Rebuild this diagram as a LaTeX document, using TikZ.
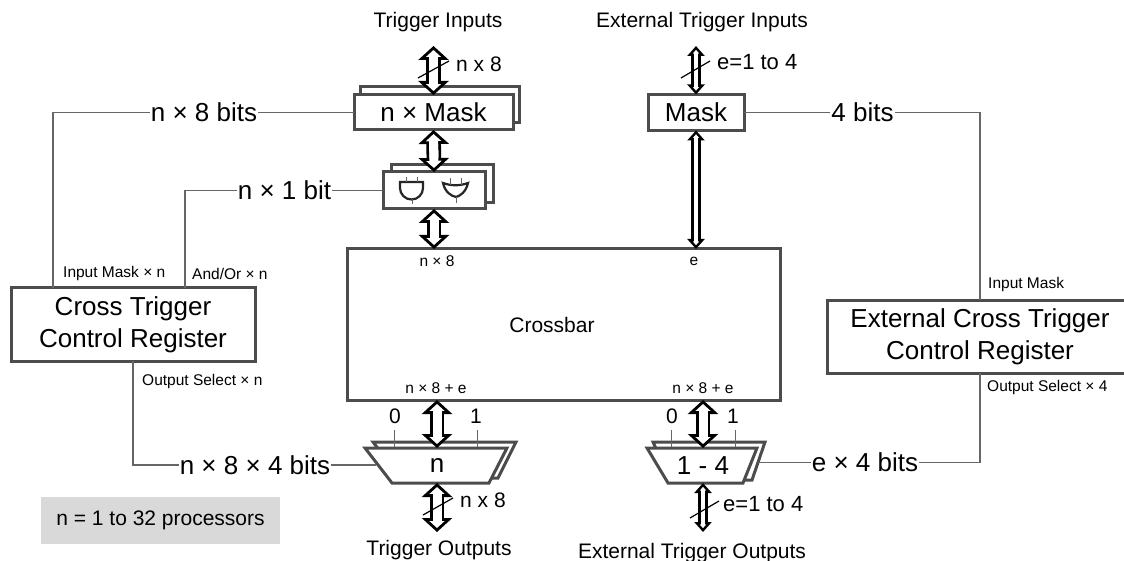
\documentclass[tikz,border=0pt]{standalone}
\usepackage{fontspec}
\setmainfont{Liberation Sans}
\usetikzlibrary{arrows.meta, positioning, calc}

\begin{document}
\begin{tikzpicture}[x=1pt, y=-1pt,
    box/.style={draw=black!70, line width=3pt, fill=white, inner sep=0pt, outer sep=0pt},
    wire/.style={draw=black!60, line width=1.4pt},
    tick/.style={draw=black!60, line width=1pt},
    gate/.style={draw=black!85, line width=2.2pt},
    bus/.style={draw=black, line width=2.8pt, double=white, double distance=9pt,
        {Triangle[width=30pt, length=14pt, fill=white]}-{Triangle[width=30pt, length=14pt, fill=white]},
        postaction={draw=white, line width=9pt, -, shorten >=8pt, shorten <=8pt}},
    thinbus/.style={draw=black, line width=2.4pt, double=white, double distance=4.5pt,
        {Triangle[width=17pt, length=10pt, fill=white]}-{Triangle[width=17pt, length=10pt, fill=white]},
        postaction={draw=white, line width=4.5pt, -, shorten >=6pt, shorten <=6pt}},
    slash/.style={draw=black, line width=1.2pt},
    big/.style={font=\fontsize{26}{32}\selectfont, align=center},
    mid/.style={font=\fontsize{21}{24}\selectfont, inner sep=1pt},
    bits/.style={font=\fontsize{26}{30}\selectfont, inner sep=1pt},
    small/.style={font=\fontsize{15.5}{18}\selectfont, inner sep=0pt},
    muxtext/.style={big, inner sep=0pt, outer sep=0pt, minimum width=80, minimum height=35},
    note/.style={fill=black!15, font=\fontsize{21}{24}\selectfont, inner sep=0pt}]

    \useasboundingbox (0,0) rectangle (1124,561);

    % Boxes in the middle of the picture
    \node (crossbar) [box, minimum width=433, minimum height=151] at (563.5,324.5) {};
    \node (crossbarText) [mid] at (552,325) {Crossbar};
    \node (maskBack) [box, minimum width=159, minimum height=36] at (439.5,105) {};
    \node (nMask) [box, big, minimum width=159, minimum height=35] at (433.5,112.5) {n × Mask};
    \node (gateBack) [box, minimum width=102, minimum height=38] at (442,184) {};
    \node (gates) [box, minimum width=102, minimum height=37] at (434,190.5) {};
    \node (eMask) [box, big, minimum width=96, minimum height=36] at (696,112.5) {Mask};

    % Register boxes
    \node (ctc) [box, big, minimum width=244, minimum height=73] at (133,324.5) {Cross Trigger\\Control Register};
    \node (ectc) [box, big, minimum width=306, minimum height=73] at (980,336.5) {External Cross Trigger\\Control Register};

    % Output muxes
    \draw [box] (373,442) -- (516,442) -- (498,478) -- (400,478) -- cycle;
    \draw [box] (365,448) -- (507,448) -- (489,483) -- (392,483) -- cycle;
    \draw [box] (653,442) -- (765,442) -- (752,480) -- (670,480) -- cycle;
    \draw [box] (647,448) -- (757,448) -- (743,483) -- (668,483) -- cycle;
    \node (mux) [muxtext] at (437,465.5) {n};
    \node (eMux) [muxtext] at (703,465.5) {1 - 4};

    % Free ends of the buses
    \coordinate (trigIn) at (433.5,46);
    \coordinate (eTrigIn) at (696,46);
    \coordinate (trigOut) at (437,532);
    \coordinate (eTrigOut) at (703,532);

    % Buses
    \draw [bus] (trigIn) to (nMask.north);
    \draw [bus] (nMask.south) to (gates.north);
    \draw [bus] (gates.south) to (crossbar.north -| gates.south);
    \draw [thinbus] (eTrigIn) to (eMask.north);
    \draw [thinbus] (eMask.south) to (crossbar.north -| eMask.south);
    \draw [bus] (crossbar.south -| mux.north) to (mux.north);
    \draw [bus] (crossbar.south -| eMux.north) to (eMux.north);
    \draw [bus] (mux.south) to (trigOut -| mux.south);
    \draw [thinbus] (eMux.south) to (eTrigOut -| eMux.south);

    % Bus width slashes
    \coordinate (slashA) at (418,78);
    \coordinate (slashB) at (449,61);
    \coordinate (slashC) at (681,78);
    \coordinate (slashD) at (710,61);
    \coordinate (slashE) at (423,515);
    \coordinate (slashF) at (453,498);
    \coordinate (slashG) at (690,518);
    \coordinate (slashH) at (719,501);
    \draw [slash] (slashA) to (slashB);
    \draw [slash] (slashC) to (slashD);
    \draw [slash] (slashE) to (slashF);
    \draw [slash] (slashG) to (slashH);

    % Wire labels
    \node (bitsA) [bits] at (204,112.5) {n × 8 bits};
    \node (bitsB) [bits] at (284.5,190.5) {n × 1 bit};
    \node (bitsC) [bits] at (862.5,112.5) {4 bits};
    \node (bitsD) [bits] at (255,465) {n × 8 × 4 bits};
    \node (bitsE) [bits] at (865,462.5) {e × 4 bits};

    % Control wires
    \coordinate (ctcMask) at (53,288);
    \coordinate (ctcGate) at (185,288);
    \coordinate (ctcOut) at (133,361);
    \coordinate (ectcIn) at (980,300);
    \coordinate (ectcOut) at (980,373);
    \coordinate (muxIn) at (375.5,465);
    \coordinate (eMuxIn) at (758,462.5);
    \draw [wire] (nMask.west) to (bitsA);
    \draw [wire] (bitsA) -| (ctcMask);
    \draw [wire] (gates.west) to (bitsB);
    \draw [wire] (bitsB) -| (ctcGate);
    \draw [wire] (ctcOut) |- (bitsD);
    \draw [wire] (bitsD) to (muxIn);
    \draw [wire] (eMask.east) to (bitsC);
    \draw [wire] (bitsC) -| (ectcIn);
    \draw [wire] (ectcOut) |- (bitsE);
    \draw [wire] (bitsE) to (eMuxIn);

    % Gates inside the box
    \draw [gate] (400,182) -- (423,182) -- (423,188) arc (0:180:11.5) -- cycle;
    \draw [gate] (443,183) .. controls (451,186) and (460,186) .. (468,183) .. controls (466,192) and (460,196) .. (456,197) .. controls (451,196) and (445,192) .. (443,183) -- cycle;
    \draw [tick] (406,177) -- (406,182);
    \draw [tick] (417,177) -- (417,182);
    \draw [tick] (412,199) -- (412,204);
    \draw [tick] (450,178) -- (450,185);
    \draw [tick] (461,178) -- (461,185);
    \draw [tick] (456,197) -- (456,203);

    % Mux select ticks
    \draw [tick] (394,430) -- (394,447);
    \draw [tick] (477,430) -- (477,447);
    \draw [tick] (671,430) -- (671,447);
    \draw [tick] (735,430) -- (735,447);
    \node (selA) [mid] at (395,416) {0};
    \node (selB) [mid] at (476,416) {1};
    \node (selC) [mid] at (672,416) {0};
    \node (selD) [mid] at (733,416) {1};

    % Outer names
    \node (nameA) [mid] at (438,22) {Trigger Inputs};
    \node (nameB) [mid] at (702,22) {External Trigger Inputs};
    \node (nameC) [mid] at (439,550) {Trigger Outputs};
    \node (nameD) [mid] at (692,553) {External Trigger Outputs};
    \node (widthA) [mid, anchor=west] at (455,64) {n x 8};
    \node (widthB) [mid, font=\fontsize{22}{24}\selectfont, anchor=west] at (716,62) {e=1 to 4};
    \node (widthC) [mid, anchor=west] at (459,500) {n x 8};
    \node (widthD) [mid, font=\fontsize{22}{24}\selectfont, anchor=west] at (722,504) {e=1 to 4};

    % Small port names
    \node (portA) [small, anchor=west] at (63,273) {Input Mask × n};
    \node (portB) [small, anchor=west] at (192,274) {And/Or × n};
    \node (portC) [small, anchor=west] at (142,381) {Output Select × n};
    \node (portD) [small, anchor=west] at (988,284) {Input Mask};
    \node (portE) [small, anchor=west] at (987,387) {Output Select × 4};
    \node (portF) [small] at (437,261) {n × 8};
    \node (portG) [small] at (694,261) {e};
    \node (portH) [small] at (436,388) {n × 8 + e};
    \node (portI) [small] at (703,388) {n × 8 + e};

    % Note
    \node (note) [note, minimum width=239, minimum height=47] at (160.5,520.5) {n = 1 to 32 processors};

\end{tikzpicture}
\end{document}
